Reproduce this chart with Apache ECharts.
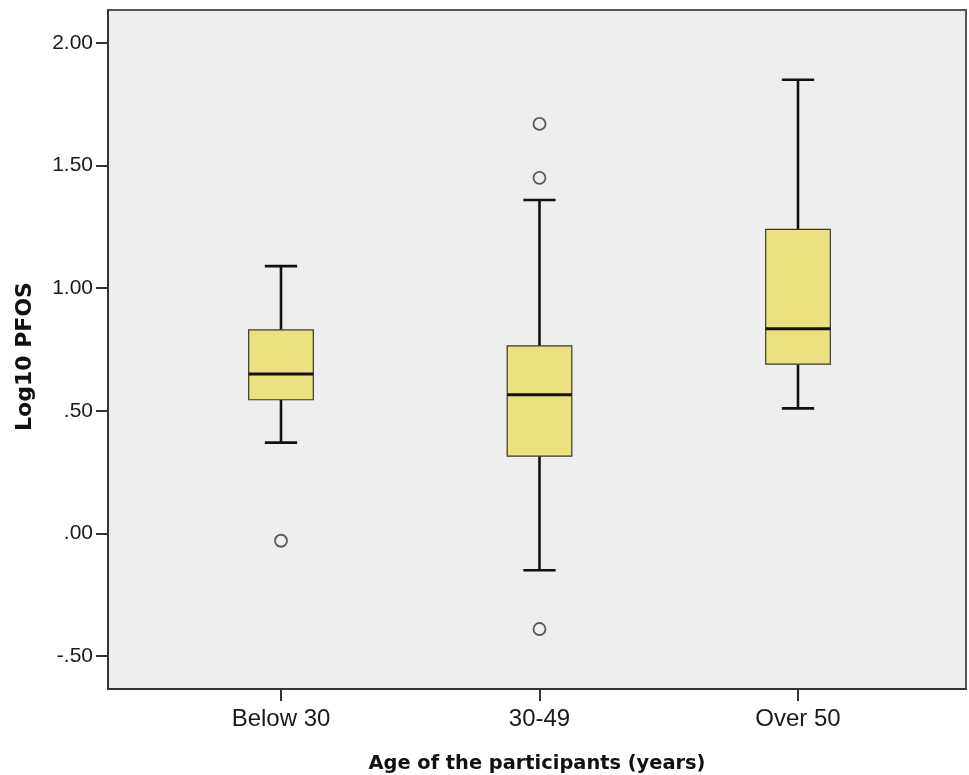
<!DOCTYPE html>
<html>
<head>
<meta charset="utf-8">
<title>Log10 PFOS by age group</title>
<script src="https://cdn.jsdelivr.net/npm/echarts@6/dist/echarts.min.js"></script>
<style>
  html, body { margin: 0; padding: 0; background: #ffffff; }
  #chart { width: 969px; height: 775px; }
</style>
</head>
<body>
<div id="chart"></div>
<script>
// Age groups and five-number summaries of Log10 PFOS
const categories = ['Below 30', '30-49', 'Over 50'];
const whiskerLow = [0.37, -0.15, 0.51];
const quartile1 = [0.545, 0.315, 0.69];
const medians = [0.65, 0.565, 0.835];
const quartile3 = [0.83, 0.765, 1.24];
const whiskerHigh = [1.09, 1.36, 1.85];

// Outliers as [group index, value]
const outliers = [[0, -0.03], [1, 1.67], [1, 1.45], [1, -0.39]];

// Y tick values
const yTicks = [-0.5, 0, 0.5, 1, 1.5, 2];

const boxData = categories.map((c, i) => [i, whiskerLow[i], quartile1[i], medians[i], quartile3[i], whiskerHigh[i]]);

function fmtY(v) {
  const s = Math.abs(v).toFixed(2).replace(/^0/, '');
  return (v < 0 ? '-' : '') + s;
}

const chart = echarts.init(document.getElementById('chart'), null, { renderer: 'canvas' });

const option = {
  animation: false,
  backgroundColor: '#ffffff',
  grid: {
    left: 108, right: 3, top: 10, bottom: 86,
    outerBoundsMode: 'none',
    containLabel: false,
    show: true,
    backgroundColor: '#EEEEEE',
    borderColor: '#555555',
    borderWidth: 2
  },
  xAxis: {
    type: 'value',
    min: -0.6692,
    max: 2.6499,
    name: 'Age of the participants (years)',
    nameLocation: 'middle',
    nameGap: 65,
    nameTextStyle: { fontFamily: 'DejaVu Sans', fontWeight: 'bold', fontSize: 19.4, color: '#111111' },
    axisLine: { show: true, onZero: false, lineStyle: { color: '#333333', width: 2 } },
    axisTick: { show: true, length: 12, lineStyle: { color: '#333333', width: 2 }, customValues: [0, 1, 2] },
    axisLabel: {
      customValues: [0, 1, 2],
      formatter: v => categories[Math.round(v)],
      fontFamily: 'Liberation Sans, Arial, sans-serif',
      fontSize: 24,
      color: '#1a1a1a',
      margin: 18
    },
    splitLine: { show: false }
  },
  yAxis: {
    type: 'value',
    min: -0.6346,
    max: 2.1346,
    name: 'Log10 PFOS',
    nameLocation: 'middle',
    nameGap: 72,
    nameTextStyle: { fontFamily: 'DejaVu Sans', fontWeight: 'bold', fontSize: 22, color: '#111111', padding: [0, 14, 0, 0] },
    axisLine: { show: true, onZero: false, lineStyle: { color: '#333333', width: 2 } },
    axisTick: { show: true, length: 12, lineStyle: { color: '#333333', width: 2 }, customValues: yTicks },
    axisLabel: {
      customValues: yTicks,
      formatter: fmtY,
      fontFamily: 'Liberation Sans, Arial, sans-serif',
      fontSize: 21,
      color: '#1a1a1a',
      margin: 15
    },
    splitLine: { show: false }
  },
  series: [
    {
      type: 'custom',
      data: boxData,
      encode: { x: 0, y: [1, 2, 3, 4, 5] },
      renderItem: function (params, api) {
        const x = api.value(0);
        const lo = api.coord([x, api.value(1)]);
        const q1 = api.coord([x, api.value(2)]);
        const md = api.coord([x, api.value(3)]);
        const q3 = api.coord([x, api.value(4)]);
        const hi = api.coord([x, api.value(5)]);
        const step = api.size([1, 0])[0];
        const bw = step * 0.25;
        const cw = step * 0.125;
        const cx = lo[0];
        const lineStyle = { stroke: '#111111', lineWidth: 2.6 };
        return {
          type: 'group',
          children: [
            { type: 'line', shape: { x1: cx, y1: q1[1], x2: cx, y2: lo[1] }, style: lineStyle },
            { type: 'line', shape: { x1: cx, y1: q3[1], x2: cx, y2: hi[1] }, style: lineStyle },
            { type: 'line', shape: { x1: cx - cw / 2, y1: lo[1], x2: cx + cw / 2, y2: lo[1] }, style: lineStyle },
            { type: 'line', shape: { x1: cx - cw / 2, y1: hi[1], x2: cx + cw / 2, y2: hi[1] }, style: lineStyle },
            {
              type: 'rect',
              shape: { x: cx - bw / 2, y: q3[1], width: bw, height: q1[1] - q3[1] },
              style: { fill: '#EAE180', stroke: '#3a3a2a', lineWidth: 1.2 }
            },
            { type: 'line', shape: { x1: cx - bw / 2, y1: md[1], x2: cx + bw / 2, y2: md[1] }, style: { stroke: '#111111', lineWidth: 3 } }
          ]
        };
      },
      z: 2
    },
    {
      type: 'scatter',
      data: outliers,
      symbol: 'circle',
      symbolSize: 12,
      itemStyle: { color: '#EEEEEE', borderColor: '#333333', borderWidth: 1.8 },
      z: 3
    }
  ]
};

chart.setOption(option);
</script>
</body>
</html>
